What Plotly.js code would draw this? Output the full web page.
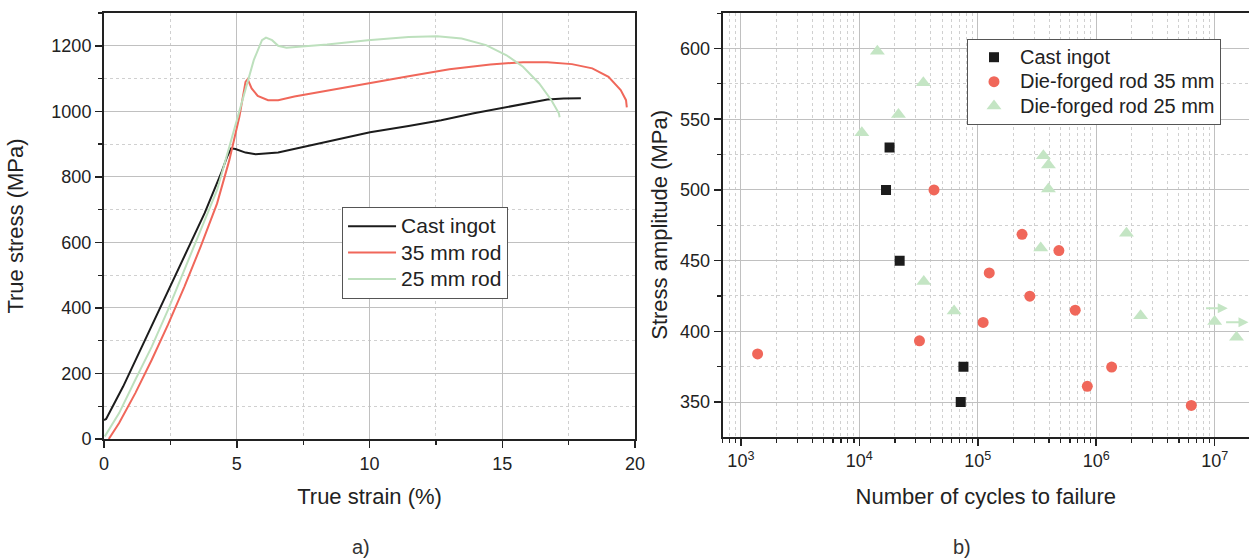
<!DOCTYPE html>
<html>
<head>
<meta charset="utf-8">
<script src="https://cdn.plot.ly/plotly-3.0.1.min.js"></script>
<style>html,body{margin:0;padding:0;background:#fff;}#chart{width:1249px;height:559px;}</style>
</head>
<body>
<div id="chart"></div>
<script>
// ---------- a) True stress-strain curves ----------
const castStrain = [0, 0.08, 0.72, 1.49, 2.26, 3.03, 3.79, 4.41, 4.64, 4.79, 4.95, 5.33, 5.71, 6.56, 7.56, 8.71, 10.02, 11.47, 12.70, 13.93, 15.16, 16.08, 16.70, 17.31, 17.96];
const castStress = [58, 61, 160, 293, 425, 557, 689, 811, 862, 887, 885, 874, 869, 874, 892, 914, 936, 955, 973, 994, 1012, 1026, 1036, 1039, 1040];

const rod35Strain = [0.18, 0.57, 1.18, 1.80, 2.41, 3.03, 3.64, 4.26, 4.72, 5.10, 5.33, 5.41, 5.56, 5.79, 6.18, 6.56, 7.17, 8.40, 9.94, 11.47, 13.01, 14.55, 15.78, 16.70, 17.62, 18.39, 19.00, 19.46, 19.66, 19.69];
const rod35Stress = [0, 49, 140, 242, 349, 465, 587, 719, 851, 984, 1090, 1098, 1070, 1047, 1034, 1034, 1045, 1063, 1085, 1107, 1128, 1143, 1150, 1150, 1144, 1131, 1105, 1065, 1034, 1012];

const rod25Strain = [0.03, 0.57, 1.18, 1.80, 2.41, 3.03, 3.64, 4.26, 4.72, 5.18, 5.64, 5.95, 6.10, 6.33, 6.56, 6.87, 7.33, 8.40, 9.94, 11.47, 12.55, 13.47, 14.39, 15.16, 15.78, 16.39, 16.85, 17.13, 17.16];
const rod25Stress = [8, 79, 181, 282, 394, 516, 638, 760, 892, 1024, 1156, 1217, 1225, 1217, 1200, 1194, 1197, 1204, 1217, 1227, 1229, 1222, 1202, 1171, 1136, 1085, 1034, 994, 982];

// ---------- b) S-N data ----------
const castCycles = [18000, 16800, 21900, 75700, 71800];
const castAmp = [530, 500, 450, 375, 350];

const rod35Cycles = [1384, 42700, 236500, 484000, 125000, 275000, 665000, 111000, 32200, 1350000, 841000, 6350000];
const rod35Amp = [384, 500, 468.6, 457.1, 441.3, 424.9, 415.0, 406.3, 393.3, 374.7, 361.1, 347.6];

const rod25Cycles = [14200, 34700, 21400, 10500, 358000, 395000, 395000, 1800000, 340000, 35000, 63100, 2370000, 10000000, 15300000];
const rod25Amp = [598, 575.8, 553.4, 540.4, 524.2, 517.6, 500.7, 469.4, 459, 435.2, 414.3, 411, 407, 395.9];

// run-out arrows: [tail cycles, tip cycles, stress]
const runoutTail = [8.22e6, 1.213e7];
const runoutTip = [1.29e7, 1.93e7];
const runoutAmp = [416.4, 406.5];

const xTickVals2 = [1e3, 1e4, 1e5, 1e6, 1e7];
const xTickText2 = ['10<sup>3</sup>', '10<sup>4</sup>', '10<sup>5</sup>', '10<sup>6</sup>', '10<sup>7</sup>'];

const legendNamesA = ['Cast ingot', '35 mm rod', '25 mm rod'];
const legendNamesB = ['Cast ingot', 'Die-forged rod 35 mm', 'Die-forged rod 25 mm'];

const BLACK = '#1c1c1c', RED = '#f0675a', GREEN = '#bde0bd', GREENM = '#c4e5c4';
const FONT = '"Liberation Sans", Arial, sans-serif';
const big = (s, px) => '<span style="font-size:' + px + 'px">' + s + '</span>';

const traces = [
  {x: castStrain, y: castStress, mode: 'lines', name: big(legendNamesA[0], 21), line: {color: BLACK, width: 2}, xaxis: 'x', yaxis: 'y', legend: 'legend'},
  {x: rod35Strain, y: rod35Stress, mode: 'lines', name: big(legendNamesA[1], 21), line: {color: RED, width: 2}, xaxis: 'x', yaxis: 'y', legend: 'legend'},
  {x: rod25Strain, y: rod25Stress, mode: 'lines', name: big(legendNamesA[2], 21), line: {color: GREEN, width: 2}, xaxis: 'x', yaxis: 'y', legend: 'legend'},
  {x: castCycles, y: castAmp, mode: 'markers', name: big(legendNamesB[0], 20), marker: {symbol: 'square', size: 10, color: BLACK}, xaxis: 'x2', yaxis: 'y2', legend: 'legend2'},
  {x: rod35Cycles, y: rod35Amp, mode: 'markers', name: big(legendNamesB[1], 20), marker: {symbol: 'circle', size: 11, color: RED}, xaxis: 'x2', yaxis: 'y2', legend: 'legend2'},
  {x: rod25Cycles, y: rod25Amp, mode: 'markers', name: big(legendNamesB[2], 20), marker: {symbol: 'triangle-up', size: 13, color: GREENM}, xaxis: 'x2', yaxis: 'y2', legend: 'legend2'}
];

const minorLog = [];
for (let e = 2; e <= 7; e++) for (let m = 2; m <= 9; m++) minorLog.push(m * Math.pow(10, e));

const axBase = {
  showline: true, linecolor: '#222', linewidth: 2, ticks: 'outside', ticklen: 7, tickwidth: 1.5, tickcolor: '#222',
  showgrid: true, gridcolor: '#c0c0c0', gridwidth: 1, zeroline: false,
  tickfont: {family: FONT, size: 18, color: '#222'}
};
const minorBase = {showgrid: true, griddash: 'dot', gridcolor: '#d0d0d0', gridwidth: 1, ticks: 'outside', ticklen: 4, tickwidth: 1.2, tickcolor: '#222'};
const titleFont = {family: FONT, size: 22, color: '#222'};

const annotations = [
  {text: 'a)', xref: 'paper', yref: 'paper', x: 0.2245, y: -0.2535, xanchor: 'center', yanchor: 'middle', showarrow: false, font: {family: FONT, size: 20, color: '#333'}},
  {text: 'b)', xref: 'paper', yref: 'paper', x: 0.7493, y: -0.2535, xanchor: 'center', yanchor: 'middle', showarrow: false, font: {family: FONT, size: 20, color: '#333'}}
];
for (let i = 0; i < runoutTip.length; i++) {
  annotations.push({
    xref: 'x2', yref: 'y2', axref: 'x2', ayref: 'y2',
    x: Math.log10(runoutTip[i]), y: runoutAmp[i], ax: Math.log10(runoutTail[i]), ay: runoutAmp[i],
    showarrow: true, arrowhead: 2, arrowsize: 1, arrowwidth: 2, arrowcolor: GREENM, text: ''
  });
}

const layout = {
  width: 1249, height: 559,
  margin: {l: 104, r: 0, t: 13, b: 120},
  paper_bgcolor: '#fff', plot_bgcolor: '#fff',
  font: {family: FONT, color: '#222'},
  xaxis: Object.assign({}, axBase, {
    domain: [0, 0.4638], range: [0, 20], tick0: 0, dtick: 5, mirror: true, anchor: 'y',
    minor: Object.assign({}, minorBase, {dtick: 2.5}),
    title: {text: 'True strain (%)', font: titleFont, standoff: 16}
  }),
  yaxis: Object.assign({}, axBase, {
    domain: [0, 1], range: [0, 1300], tick0: 0, dtick: 200, mirror: true, anchor: 'x',
    minor: Object.assign({}, minorBase, {dtick: 100}),
    title: {text: 'True stress (MPa)', font: titleFont, standoff: 22}
  }),
  xaxis2: Object.assign({}, axBase, {
    domain: [0.5402, 1], type: 'log', range: [2.845, 7.29], anchor: 'y2', mirror: true,
    tickmode: 'array', tickvals: xTickVals2, ticktext: xTickText2,
    minor: Object.assign({}, minorBase, {tickmode: 'array', tickvals: minorLog}),
    title: {text: 'Number of cycles to failure', font: titleFont, standoff: 18}
  }),
  yaxis2: Object.assign({}, axBase, {
    domain: [0.0054, 1], range: [325.5, 625.1], tick0: 350, dtick: 50, mirror: false, anchor: 'x2',
    minor: Object.assign({}, minorBase, {dtick: 25, tick0: 325}),
    title: {text: 'Stress amplitude (MPa)', font: titleFont, standoff: 6}
  }),
  legend: {
    x: 0.2079, y: 0.5446, xanchor: 'left', yanchor: 'top', xref: 'paper', yref: 'paper',
    bgcolor: '#fff', bordercolor: '#555', borderwidth: 1, itemwidth: 48,
    font: {family: FONT, size: 18, color: '#222'}, tracegroupgap: 0
  },
  legend2: {
    x: 0.7537, y: 0.939, xanchor: 'left', yanchor: 'top', xref: 'paper', yref: 'paper',
    bgcolor: '#fff', bordercolor: '#555', borderwidth: 1, itemwidth: 42,
    font: {family: FONT, size: 16.5, color: '#222'}, tracegroupgap: 0
  },
  annotations: annotations,
  showlegend: true
};

Plotly.newPlot('chart', traces, layout, {staticPlot: true, displayModeBar: false});
</script>
</body>
</html>
